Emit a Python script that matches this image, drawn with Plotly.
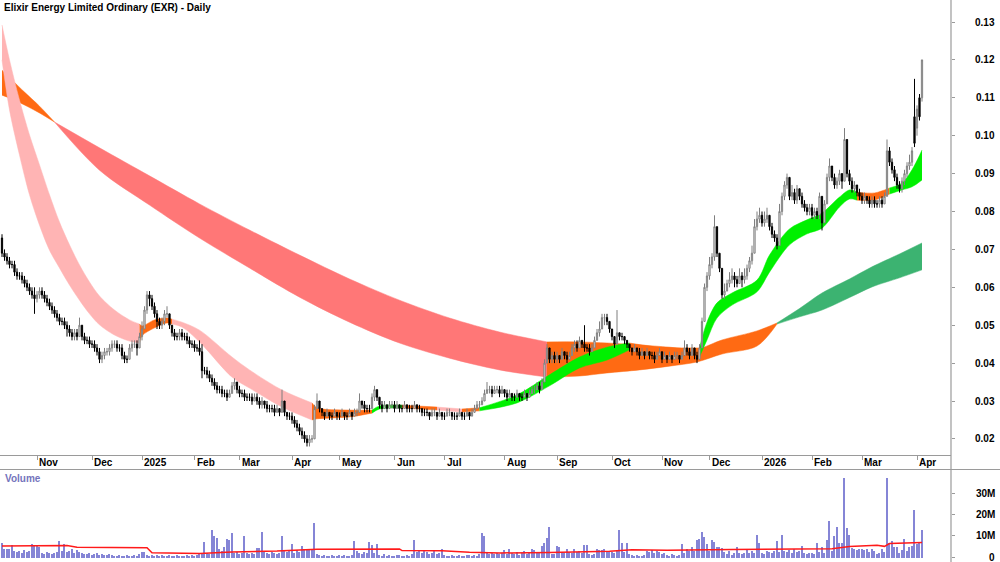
import plotly.graph_objects as go

title_text = "Elixir Energy Limited Ordinary (EXR) - Daily"

# month start bar indices and labels
month_idx = [14, 36, 56, 77, 95, 116, 135, 157, 177, 201, 222, 244, 264, 283, 304, 324, 344, 366]
month_lbl = ["Nov", "Dec", "2025", "Feb", "Mar", "Apr", "May", "Jun", "Jul", "Aug",
             "Sep", "Oct", "Nov", "Dec", "2026", "Feb", "Mar", "Apr"]

price_ticks = [0.02, 0.03, 0.04, 0.05, 0.06, 0.07, 0.08, 0.09, 0.10, 0.11, 0.12, 0.13]
vol_ticks = [0, 10, 20, 30]
vol_tick_lbl = ["0", "10M", "20M", "30M"]

# OHLC in units of 0.001 $
open_m = [
 73, 69, 68, 67, 66, 66, 64, 63, 63, 62,
 61, 60, 59, 58, 57, 58, 59, 58, 57, 56,
 55, 54, 53, 52, 51, 51, 50, 49, 48, 47,
 48, 47, 50, 47, 46, 46, 45, 45, 44, 43,
 41, 42, 43, 43, 44, 45, 45, 44, 44, 42,
 41, 41, 44, 45, 45, 44, 47, 49, 54, 58,
 57, 55, 53, 51, 50, 51, 53, 53, 50, 48,
 47, 47, 48, 47, 47, 46, 45, 45, 44, 44,
 43, 38, 38, 37, 36, 35, 34, 33, 33, 32,
 32, 31, 32, 34, 35, 33, 32, 32, 31, 31,
 31, 30, 31, 30, 29, 30, 29, 28, 28, 28,
 27, 28, 27, 30, 27, 26, 26, 25, 24, 23,
 22, 21, 20, 19, 20, 20, 28, 30, 28, 27,
 26, 27, 26, 26, 27, 26, 26, 27, 26, 26,
 27, 26, 27, 27, 30, 29, 28, 28, 28, 31,
 33, 31, 29, 28, 29, 28, 29, 29, 28, 29,
 28, 28, 29, 28, 28, 28, 29, 28, 28, 27,
 27, 27, 26, 27, 27, 26, 27, 26, 26, 27,
 27, 26, 26, 26, 27, 26, 26, 27, 26, 27,
 28, 29, 29, 30, 32, 33, 33, 32, 33, 33,
 32, 33, 32, 31, 32, 31, 31, 32, 31, 31,
 32, 31, 32, 33, 33, 34, 33, 35, 40, 44,
 41, 42, 41, 42, 41, 43, 42, 41, 42, 44,
 45, 44, 46, 45, 44, 44, 43, 44, 46, 48,
 49, 52, 52, 51, 49, 47, 45, 48, 47, 47,
 46, 45, 44, 43, 44, 43, 42, 43, 42, 43,
 42, 42, 41, 42, 43, 41, 42, 41, 42, 41,
 42, 42, 41, 42, 44, 43, 42, 44, 42, 41,
 44, 51, 60, 63, 66, 68, 76, 69, 65, 58,
 59, 61, 62, 63, 62, 61, 63, 62, 63, 65,
 67, 69, 76, 78, 79, 77, 78, 79, 76, 74,
 73, 71, 80, 84, 87, 89, 84, 85, 83, 86,
 84, 82, 81, 80, 81, 79, 80, 79, 84, 77,
 82, 89, 92, 89, 87, 88, 90, 88, 99, 90,
 88, 86, 87, 85, 84, 83, 84, 83, 82, 83,
 82, 82, 83, 82, 84, 96, 93, 91, 89, 87,
 86, 88, 90, 92, 93, 105, 102, 110, 110]

high_m = [
 74, 70, 69, 68, 67, 67, 65, 64, 64, 63,
 62, 61, 60, 60, 59, 60, 60, 59, 58, 57,
 56, 55, 54, 53, 52, 52, 51, 50, 49, 49,
 49, 52, 50, 48, 47, 47, 46, 46, 45, 44,
 43, 44, 44, 45, 46, 46, 46, 45, 45, 43,
 42, 45, 46, 46, 46, 48, 51, 55, 59, 59,
 58, 56, 54, 52, 52, 54, 55, 53, 50, 49,
 48, 49, 49, 48, 48, 47, 46, 46, 45, 46,
 45, 39, 39, 38, 37, 36, 35, 34, 34, 33,
 33, 33, 35, 36, 35, 34, 33, 33, 32, 32,
 32, 32, 32, 31, 31, 30, 30, 29, 29, 29,
 29, 28, 33, 30, 27, 27, 27, 26, 25, 24,
 23, 22, 21, 21, 21, 29, 32, 30, 28, 27,
 28, 27, 27, 28, 27, 27, 28, 27, 27, 28,
 27, 28, 28, 32, 30, 30, 29, 29, 32, 34,
 33, 31, 30, 30, 29, 30, 30, 30, 30, 29,
 29, 30, 29, 29, 29, 30, 29, 29, 28, 28,
 28, 27, 28, 28, 27, 28, 27, 27, 28, 28,
 27, 27, 27, 28, 27, 27, 28, 27, 28, 29,
 30, 30, 31, 33, 35, 34, 34, 34, 34, 34,
 34, 33, 33, 33, 32, 32, 33, 32, 32, 33,
 32, 33, 34, 34, 35, 35, 36, 41, 45, 44,
 43, 43, 43, 42, 44, 43, 43, 43, 45, 46,
 46, 47, 46, 50, 45, 45, 45, 47, 49, 51,
 53, 53, 53, 51, 49, 47, 54, 48, 48, 47,
 46, 45, 44, 45, 44, 44, 44, 43, 44, 43,
 43, 43, 43, 44, 43, 43, 42, 43, 42, 43,
 43, 42, 43, 46, 45, 44, 45, 44, 43, 45,
 52, 61, 64, 68, 69, 79, 76, 69, 65, 61,
 62, 64, 65, 64, 63, 65, 64, 65, 66, 68,
 71, 78, 80, 81, 80, 80, 81, 79, 77, 75,
 74, 82, 85, 88, 90, 89, 87, 86, 87, 86,
 85, 83, 82, 82, 82, 81, 81, 85, 84, 83,
 90, 94, 92, 90, 89, 91, 90, 102, 99, 91,
 89, 88, 87, 86, 85, 85, 84, 84, 84, 84,
 83, 84, 84, 85, 99, 97, 94, 92, 90, 88,
 89, 91, 93, 95, 97, 115, 108, 111, 120]

low_m = [
 68, 67, 66, 65, 65, 63, 62, 62, 61, 60,
 59, 58, 57, 53, 56, 57, 57, 56, 55, 54,
 53, 52, 51, 50, 50, 49, 47, 47, 46, 46,
 46, 47, 46, 45, 45, 44, 44, 43, 42, 40,
 40, 41, 42, 42, 43, 44, 43, 43, 41, 40,
 40, 41, 43, 44, 42, 44, 46, 49, 53, 55,
 54, 52, 49, 49, 49, 50, 52, 49, 47, 46,
 46, 46, 46, 46, 45, 44, 44, 43, 43, 42,
 36, 37, 36, 35, 34, 33, 32, 32, 31, 31,
 30, 31, 32, 33, 32, 31, 31, 30, 30, 30,
 29, 30, 29, 28, 28, 28, 27, 27, 27, 26,
 27, 26, 27, 26, 25, 25, 24, 23, 22, 21,
 20, 19, 18, 18, 19, 20, 28, 27, 26, 25,
 26, 25, 25, 26, 25, 25, 26, 25, 25, 26,
 25, 26, 26, 27, 28, 27, 27, 27, 28, 30,
 30, 28, 27, 28, 27, 28, 28, 27, 28, 27,
 27, 28, 27, 27, 27, 28, 27, 27, 26, 26,
 26, 25, 26, 26, 25, 26, 25, 25, 26, 26,
 25, 25, 25, 26, 25, 25, 26, 25, 26, 27,
 28, 28, 29, 30, 32, 32, 31, 32, 32, 31,
 32, 31, 30, 31, 30, 30, 31, 30, 30, 31,
 30, 31, 32, 32, 33, 32, 33, 35, 40, 40,
 40, 40, 40, 40, 41, 41, 40, 41, 42, 43,
 43, 44, 44, 43, 43, 42, 43, 44, 46, 47,
 49, 50, 50, 48, 46, 44, 45, 46, 46, 45,
 44, 43, 42, 43, 42, 41, 42, 41, 42, 41,
 41, 40, 41, 42, 40, 41, 40, 41, 40, 41,
 41, 40, 41, 42, 42, 41, 42, 41, 40, 41,
 44, 51, 59, 62, 65, 67, 68, 64, 57, 57,
 59, 60, 61, 60, 60, 61, 60, 61, 62, 64,
 66, 69, 75, 77, 76, 76, 77, 75, 73, 72,
 70, 71, 79, 83, 86, 83, 83, 82, 82, 83,
 81, 80, 79, 79, 78, 78, 78, 78, 75, 77,
 82, 88, 88, 86, 86, 87, 86, 88, 89, 87,
 85, 85, 84, 83, 82, 82, 82, 81, 81, 81,
 81, 81, 81, 82, 84, 92, 90, 88, 86, 85,
 85, 87, 89, 91, 92, 97, 100, 104, 109]

close_m = [
 69, 68, 67, 66, 66, 64, 63, 63, 62, 61,
 60, 59, 58, 57, 58, 59, 58, 57, 56, 55,
 54, 53, 52, 51, 51, 50, 49, 48, 47, 48,
 47, 50, 47, 46, 46, 45, 45, 44, 43, 41,
 42, 43, 43, 44, 45, 45, 44, 44, 42, 41,
 41, 44, 45, 45, 44, 47, 49, 54, 58, 57,
 55, 53, 51, 50, 51, 53, 53, 50, 48, 47,
 47, 48, 47, 47, 46, 45, 45, 44, 44, 43,
 38, 38, 37, 36, 35, 34, 33, 33, 32, 32,
 31, 32, 34, 35, 33, 32, 32, 31, 31, 31,
 30, 31, 30, 29, 30, 29, 28, 28, 28, 27,
 28, 27, 30, 27, 26, 26, 25, 24, 23, 22,
 21, 20, 19, 20, 20, 28, 30, 28, 27, 26,
 27, 26, 26, 27, 26, 26, 27, 26, 26, 27,
 26, 27, 27, 30, 29, 28, 28, 28, 31, 33,
 31, 29, 28, 29, 28, 29, 29, 28, 29, 28,
 28, 29, 28, 28, 28, 29, 28, 28, 27, 27,
 27, 26, 27, 27, 26, 27, 26, 26, 27, 27,
 26, 26, 26, 27, 26, 26, 27, 26, 27, 28,
 29, 29, 30, 32, 33, 33, 32, 33, 33, 32,
 33, 32, 31, 32, 31, 31, 32, 31, 31, 32,
 31, 32, 33, 33, 34, 33, 35, 40, 44, 41,
 42, 41, 42, 41, 43, 42, 41, 42, 44, 45,
 44, 46, 45, 44, 44, 43, 44, 46, 48, 49,
 52, 52, 51, 49, 47, 45, 48, 47, 47, 46,
 45, 44, 43, 44, 43, 42, 43, 42, 43, 42,
 42, 41, 42, 43, 41, 42, 41, 42, 41, 42,
 42, 41, 42, 44, 43, 42, 44, 42, 41, 44,
 51, 60, 63, 66, 68, 76, 69, 65, 58, 59,
 61, 62, 63, 62, 61, 63, 62, 63, 65, 67,
 69, 76, 78, 79, 77, 78, 79, 76, 74, 73,
 71, 80, 84, 87, 89, 84, 85, 83, 86, 84,
 82, 81, 80, 81, 79, 80, 79, 84, 77, 82,
 89, 92, 89, 87, 88, 90, 88, 99, 90, 88,
 86, 87, 85, 84, 83, 84, 83, 82, 83, 82,
 82, 83, 82, 84, 96, 93, 91, 89, 87, 86,
 88, 90, 92, 93, 96, 98, 107, 105, 120]

# volume in millions of shares
volume_m = [
 7, 4, 4.2, 3.8, 6, 3, 2.5, 3, 2, 3.5,
 2.5, 3, 6.5, 6, 5.5, 5, 2, 1.5, 2.5, 2,
 1.5, 2, 2.5, 7.8, 3, 6.5, 2.5, 3, 4, 2,
 3.5, 2.5, 2, 1.5, 1.5, 2, 1, 1.5, 2, 1,
 1.5, 1, 1.2, 1.5, 1, 0.6, 0.8, 1, 0.5, 0.8,
 1, 0.6, 0.8, 1.2, 0.8, 1.5, 2.4, 2.6, 1, 0.8,
 1, 0.6, 1.2, 0.8, 1, 0.5, 0.8, 1, 0.6, 0.8,
 1, 0.5, 0.8, 0.6, 1, 0.8, 1.2, 0.8, 1, 1.5,
 1.5, 7.5, 2, 1.5, 13, 10, 9, 4, 3, 5,
 8.6, 8, 11.5, 2, 2.5, 1.5, 2, 10, 2, 1.5,
 2, 1.8, 4.5, 4.5, 12, 2.5, 2, 1.5, 2.5, 2,
 1.5, 2, 10, 3.5, 2.5, 3, 6.5, 2, 3.5, 2.5,
 5.5, 4, 3.5, 4, 4, 16.3, 1.5, 1, 0.5, 1,
 0.8, 0.6, 1, 0.5, 0.8, 1.2, 0.6, 1, 0.5, 0.8,
 1, 7.8, 3, 2, 1.5, 2.5, 2, 7.3, 6, 2,
 6.5, 1, 0.8, 1.5, 0.6, 1, 0.8, 0.5, 1, 1.2,
 0.8, 0.6, 1, 0.8, 1.5, 8.3, 2.5, 3.5, 2, 3,
 2.5, 1.5, 2, 3, 1.5, 2, 4, 1, 0.8, 0.5,
 1, 0.6, 0.8, 1, 0.5, 0.8, 1, 1.2, 0.6, 1,
 0.8, 1.5, 11.5, 10, 2, 1.5, 2, 1.5, 2, 1.5,
 2, 3.5, 1.5, 4, 2, 1.5, 2.5, 1, 2, 3,
 1.5, 2.5, 3.9, 3.5, 2, 2.5, 5.5, 6.7, 9, 14.4,
 1.6, 1.6, 5.5, 4.7, 2.3, 2.3, 3.9, 2.5, 2, 3.9,
 2.5, 3, 2.3, 5.8, 5.8, 1.6, 1.2, 1.5, 3.9, 3.5,
 3.5, 3.9, 2.5, 3, 2.5, 2, 3.5, 12.8, 7, 2.5,
 7, 1.6, 1, 0.8, 1.2, 0.5, 0.8, 1, 3, 2.5,
 3.5, 2, 3, 2.5, 1.5, 2, 1, 0.8, 1.5, 1,
 0.6, 1, 6.3, 2, 4, 3, 4.7, 3, 8, 8.6,
 12, 9.5, 6.3, 3, 8.3, 7.5, 4.7, 4.7, 4.4, 2.5,
 1.5, 3, 1, 2, 4.7, 2, 1.5, 2, 3.9, 2.3,
 3, 2, 10.7, 6.7, 2, 1.5, 3, 2.5, 2, 3,
 7.9, 2.5, 10.5, 3, 2.5, 3.5, 2, 3.9, 2.5, 3,
 5.5, 2, 1.5, 2.3, 2, 1.6, 7, 2.5, 4.7, 2.3,
 8, 17.2, 3, 10.2, 14.4, 6.6, 7, 37.5, 14, 10.5,
 4.5, 3.9, 3.5, 4, 4.2, 3.5, 3.9, 2.5, 3.9, 3,
 1.6, 2.3, 4, 2.5, 37.5, 7, 7.8, 5, 4.7, 2.3,
 3.5, 8.6, 3, 4.7, 5.5, 22.3, 6.3, 7.5, 12.8]

# volume moving average (millions), read at sample bars
vol_ma_idx = [0, 13, 26, 30, 58, 60, 79, 92, 110, 126, 159, 160, 176, 187, 199, 219, 243, 252, 266, 292, 332, 339, 350, 353, 355, 368]
vol_ma_val = [5.2, 5.2, 5.4, 4.6, 4.4, 2.0, 1.7, 2.4, 2.8, 3.6, 3.8, 3.0, 2.9, 2.2, 1.9, 2.1, 2.7, 3.4, 3.2, 3.5, 3.9, 4.9, 5.5, 5.0, 6.3, 6.8]

# short-term ribbon edges (0.001 $), read at sample bars
fast_idx = [0, 3, 7, 11, 15, 19, 23, 27, 31, 35, 39, 45, 51, 55, 56, 61, 66, 68, 72, 79,
            92, 99, 112, 124, 126, 139, 148, 151, 160, 174, 184, 191, 206, 219, 231, 242, 251, 263, 279, 282,
            286, 292, 302, 307, 315, 322, 328, 335, 339, 342, 349, 355, 360, 364, 368]
fast_hi = [129.2, 120.0, 109.4, 100.2, 92.3, 84.4, 77.2, 71.2, 65.9, 61.4, 57.7, 54.0, 51.4, 50.3, 49.8, 51.4, 51.9, 51.6, 50.8, 48.7,
           41.6, 38.2, 32.9, 29.5, 28.2, 27.6, 27.6, 28.7, 28.9, 28.4, 27.9, 28.2, 31.6, 36.9, 41.6, 44.2, 45.3, 44.2, 44.0, 50.8,
           55.9, 58.5, 61.9, 68.5, 75.4, 77.8, 79.6, 83.8, 85.7, 85.1, 84.9, 86.2, 87.5, 91.0, 96.2]
fast_lo = [120.0, 106.8, 94.9, 84.4, 76.4, 69.8, 65.1, 60.6, 56.6, 53.0, 50.1, 47.4, 45.8, 45.3, 47.2, 49.3, 50.6, 50.3, 49.5, 45.6,
           36.3, 33.4, 28.4, 25.0, 25.3, 25.8, 26.8, 27.9, 28.2, 27.6, 27.1, 27.4, 29.5, 34.0, 38.7, 40.8, 43.5, 42.1, 41.6, 46.1,
           51.9, 55.3, 58.8, 64.0, 71.2, 74.1, 75.6, 81.2, 83.3, 83.0, 83.0, 84.6, 85.7, 86.5, 88.3]
fast_bounds = [0, 55, 68, 124, 148, 160, 174, 184, 191, 251, 279, 342, 355, 368]
fast_state = ["bear", "mixed", "bear", "mixed", "bull", "mixed", "bear", "mixed", "bull", "mixed", "bull", "mixed", "bull"]

# long-term ribbon edges (0.001 $)
slow_idx = [0, 4, 9, 15, 21, 39, 59, 79, 99, 119, 139, 159, 179, 199, 218, 231, 242, 255, 267, 278,
            288, 302, 310, 319, 328, 339, 348, 359, 368]
slow_hi = [117.3, 114.7, 111.5, 107.8, 103.6, 96.8, 89.4, 82.0, 75.1, 68.5, 62.2, 56.6, 51.9, 48.2, 45.6, 45.6, 45.3, 44.8, 44.2, 43.7,
           46.1, 48.5, 50.6, 54.4, 58.5, 62.2, 65.4, 68.8, 71.7]
slow_lo = [110.7, 109.7, 108.1, 106.0, 103.6, 90.9, 81.7, 73.0, 65.1, 57.4, 50.8, 45.3, 41.3, 38.2, 36.3, 36.6, 37.4, 38.2, 39.2, 40.3,
           42.4, 44.5, 50.3, 52.2, 54.0, 57.3, 60.1, 62.5, 64.6]
slow_bounds = [0, 21, 218, 310, 368]
slow_state = ["mixed", "bear", "mixed", "bull"]

FAST_COL = {"bear": "#FFB4B4", "mixed": "#FF6A13", "bull": "#00F000"}
SLOW_COL = {"bear": "#FF7777", "mixed": "#FF6A13", "bull": "#3CB371"}
FONT = "Liberation Sans, Arial, sans-serif"
AXIS_COL = "#9A9A9A"

n = len(close_m)
bars = list(range(n))

fig = go.Figure()


def add_band(xs, hi, lo, bounds, states, cmap):
    for k, st in enumerate(states):
        a, b = bounds[k], bounds[k + 1]
        sel = [j for j, v in enumerate(xs) if a <= v <= b]
        px = [xs[j] for j in sel]
        ph = [hi[j] / 1000 for j in sel]
        pl = [lo[j] / 1000 for j in sel]
        fig.add_trace(go.Scatter(
            x=px, y=pl, mode="lines", line=dict(width=0.5, color=cmap[st], shape="spline", smoothing=0.9),
            hoverinfo="skip", showlegend=False, xaxis="x", yaxis="y"))
        fig.add_trace(go.Scatter(
            x=px, y=ph, mode="lines", fill="tonexty", fillcolor=cmap[st],
            line=dict(width=0.5, color=cmap[st], shape="spline", smoothing=0.9),
            hoverinfo="skip", showlegend=False, xaxis="x", yaxis="y"))


add_band(slow_idx, slow_hi, slow_lo, slow_bounds, slow_state, SLOW_COL)
add_band(fast_idx, fast_hi, fast_lo, fast_bounds, fast_state, FAST_COL)

# candles on an overlaid axis so they are drawn above the ribbons
fig.add_trace(go.Candlestick(
    x=bars,
    open=[v / 1000 for v in open_m], high=[v / 1000 for v in high_m],
    low=[v / 1000 for v in low_m], close=[v / 1000 for v in close_m],
    increasing=dict(line=dict(color="#7F7F7F", width=1), fillcolor="#FFFFFF"),
    decreasing=dict(line=dict(color="#000000", width=1), fillcolor="#000000"),
    whiskerwidth=0, showlegend=False, hoverinfo="skip", xaxis="x", yaxis="y3"))

fig.add_trace(go.Bar(
    x=bars, y=volume_m, width=0.45,
    marker=dict(color="#8585D6", line=dict(width=0)),
    showlegend=False, hoverinfo="skip", xaxis="x2", yaxis="y2"))

fig.add_trace(go.Scatter(
    x=vol_ma_idx, y=vol_ma_val, mode="lines",
    line=dict(color="#FF1A1A", width=1.5),
    showlegend=False, hoverinfo="skip", xaxis="x2", yaxis="y2"))

W, H = 1000, 562
PLOT_R = 951
annotations = []
annotations.append(dict(text="<b>" + title_text + "</b>", x=2 / PLOT_R, y=1 - 7.5 / H,
                        xref="paper", yref="paper", xanchor="left", yanchor="middle",
                        showarrow=False, font=dict(family=FONT, size=10, color="#000000")))
annotations.append(dict(text="<b>Volume</b>", x=3 / PLOT_R, y=1 - 478 / H,
                        xref="paper", yref="paper", xanchor="left", yanchor="middle",
                        showarrow=False, font=dict(family=FONT, size=10, color="#7474BC")))
for mi, ml in zip(month_idx, month_lbl):
    annotations.append(dict(text="<b>" + ml + "</b>", x=mi, y=1 - 462.5 / H,
                            xref="x", yref="paper", xanchor="left", yanchor="middle", xshift=0,
                            showarrow=False, font=dict(family=FONT, size=10, color="#000000")))
for pv in price_ticks:
    annotations.append(dict(text="<b>%.2f</b>" % pv, x=997 / PLOT_R, y=pv,
                            xref="paper", yref="y", xanchor="right", yanchor="middle",
                            showarrow=False, font=dict(family=FONT, size=10, color="#000000")))
for vv, vl in zip(vol_ticks, vol_tick_lbl):
    annotations.append(dict(text="<b>" + vl + "</b>", x=997 / PLOT_R, y=vv,
                            xref="paper", yref="y2", xanchor="right", yanchor="middle",
                            showarrow=False, font=dict(family=FONT, size=10, color="#000000")))

shapes = [
    dict(type="line", xref="paper", yref="paper", x0=1, x1=1, y0=0, y1=1,
         line=dict(color=AXIS_COL, width=1.2)),
    dict(type="line", xref="paper", yref="paper", x0=0, x1=W / PLOT_R, y0=1 - 469.5 / H, y1=1 - 469.5 / H,
         line=dict(color=AXIS_COL, width=1.2)),
]

y_top = 0.13 + 22 / 3790
y_bot = 0.13 - 433 / 3790

fig.update_layout(
    width=W, height=H, margin=dict(l=0, r=W - PLOT_R, t=0, b=0),
    paper_bgcolor="white", plot_bgcolor="white", showlegend=False,
    annotations=annotations, shapes=shapes,
    xaxis=dict(domain=[0, 1], range=[-0.8, (PLOT_R - 2) / 2.5], anchor="y",
               showgrid=False, zeroline=False, tickvals=month_idx, ticks="outside",
               ticklen=4, tickcolor=AXIS_COL, showticklabels=False, showline=True,
               linecolor=AXIS_COL, linewidth=1.2, rangeslider=dict(visible=False), fixedrange=True),
    yaxis=dict(domain=[1 - 455 / H, 1], range=[y_bot, y_top], anchor="x", side="right",
               showgrid=False, zeroline=False, tickvals=price_ticks, ticks="outside",
               ticklen=3, tickcolor=AXIS_COL, showticklabels=False, showline=False),
    yaxis3=dict(overlaying="y", range=[y_bot, y_top], anchor="x", side="right",
                visible=False, showgrid=False, zeroline=False),
    xaxis2=dict(domain=[0, 1], matches="x", anchor="y2", showgrid=False, zeroline=False,
                showticklabels=False, ticks="", showline=False),
    yaxis2=dict(domain=[0, 1 - 469.5 / H], range=[-5 / 2.13, (557 - 469.5) / 2.13], anchor="x2",
                side="right", showgrid=False, zeroline=False, tickvals=vol_ticks, ticks="outside",
                ticklen=3, tickcolor=AXIS_COL, showticklabels=False, showline=False),
    bargap=0,
)

fig.write_html("out.html")
